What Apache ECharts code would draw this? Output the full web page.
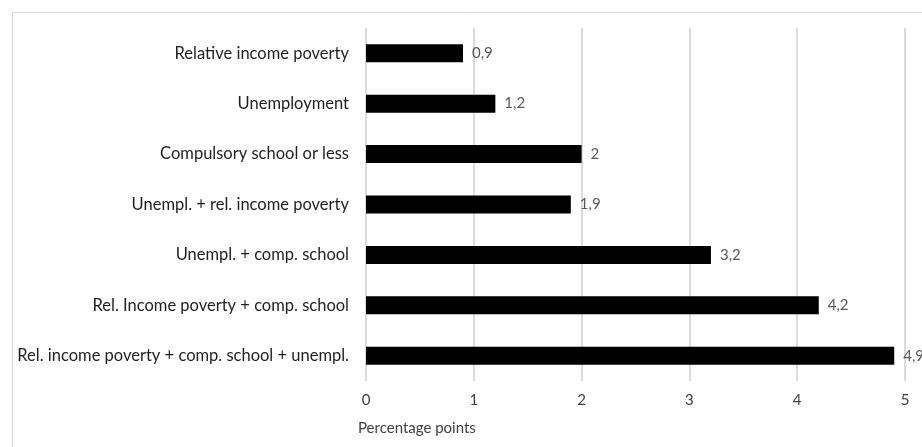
<!DOCTYPE html>
<html>
<head>
<meta charset="utf-8">
<script src="https://cdn.jsdelivr.net/npm/echarts@6/dist/echarts.min.js"></script>
<style>
  html, body { margin: 0; padding: 0; background: #fff; }
  #chart { width: 922px; height: 447px; }
</style>
</head>
<body>
<div id="chart"></div>
<script>
// categories listed bottom to top (category axis on y grows upward)
const categories = [
  'Rel. income poverty + comp. school + unempl.',
  'Rel. Income poverty + comp. school',
  'Unempl. + comp. school',
  'Unempl. + rel. income poverty',
  'Compulsory school or less',
  'Unemployment',
  'Relative income poverty'
]
const values = [4.9, 4.2, 3.2, 1.9, 2, 1.2, 0.9]
const xTicks = [0, 1, 2, 3, 4, 5]

const fontFamily = 'Lato, "Open Sans", sans-serif'

const chart = echarts.init(document.getElementById('chart'))

chart.setOption({
  animation: false,
  textStyle: { fontFamily },
  graphic: [{
    // outer chart frame (cropped at right and bottom in the original)
    type: 'rect',
    left: 10,
    top: 10,
    shape: { width: 960, height: 480 },
    style: { fill: 'none', stroke: '#d9d9d9', lineWidth: 1 },
    silent: true
  }],
  grid: {
    left: 366,
    right: 17,
    top: 28,
    bottom: 66
  },
  xAxis: {
    type: 'value',
    min: xTicks[0],
    max: xTicks[xTicks.length - 1],
    interval: 1,
    name: 'Percentage points',
    nameLocation: 'start',
    nameGap: 0,
    nameTextStyle: {
      color: '#404040',
      fontSize: 15,
      align: 'left',
      verticalAlign: 'top',
      padding: [40, 0, 0, -8]
    },
    axisLine: { show: false },
    axisTick: { show: false },
    axisLabel: {
      color: '#404040',
      fontSize: 15,
      margin: 12
    },
    splitLine: {
      show: true,
      lineStyle: { color: '#cfcfcf', width: 1.5 }
    }
  },
  yAxis: {
    type: 'category',
    data: categories,
    axisLine: { show: false },
    axisTick: { show: false },
    axisLabel: {
      color: '#1f1f1f',
      fontSize: 16.5,
      margin: 17
    }
  },
  series: [{
    type: 'bar',
    data: values,
    barWidth: 18,
    itemStyle: { color: '#000' },
    label: {
      show: true,
      position: 'right',
      distance: 9,
      color: '#595959',
      fontSize: 15,
      formatter: p => String(p.value).replace('.', ',')
    }
  }]
})
</script>
</body>
</html>
